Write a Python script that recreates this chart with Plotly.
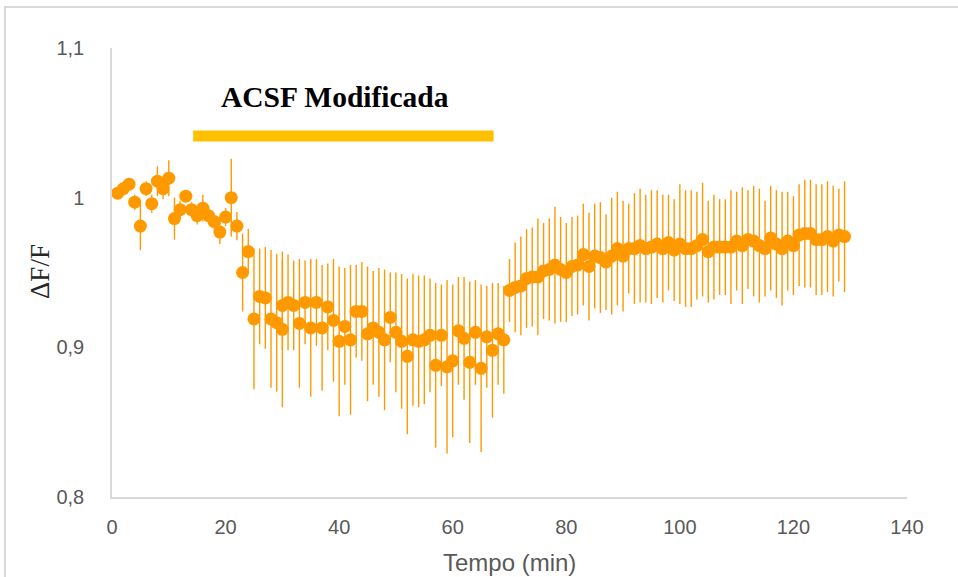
import plotly.graph_objects as go

# ---- data ----
minutes = list(range(1, 130))
delta_f = [
    1.003, 1.006, 1.009, 0.997, 0.981, 1.006, 0.996, 1.011, 1.006, 1.013,
    0.986, 0.992, 1.001, 0.992, 0.988, 0.993, 0.988, 0.984, 0.977, 0.987,
    1.000, 0.981, 0.950, 0.964, 0.919, 0.934, 0.933, 0.919, 0.9165, 0.912,
    0.930, 0.928, 0.916, 0.930, 0.913, 0.930, 0.913, 0.927, 0.918, 0.904,
    0.914, 0.905, 0.924, 0.924, 0.909, 0.913, 0.910, 0.905, 0.920, 0.910,
    0.904, 0.894, 0.905, 0.904, 0.905, 0.908, 0.888, 0.908, 0.887, 0.891,
    0.911, 0.906, 0.890, 0.910, 0.886, 0.907, 0.898, 0.909, 0.905, 0.938,
    0.940, 0.941, 0.946, 0.947, 0.947, 0.951, 0.952, 0.955, 0.952, 0.950,
    0.954, 0.955, 0.962, 0.954, 0.961, 0.960, 0.957, 0.961, 0.966, 0.961,
    0.966, 0.966, 0.968, 0.966, 0.967, 0.969, 0.966, 0.970, 0.965, 0.969,
    0.966, 0.966, 0.968, 0.972, 0.964, 0.967, 0.967, 0.967, 0.967, 0.971,
    0.968, 0.972, 0.971, 0.968, 0.966, 0.973, 0.969, 0.966, 0.971, 0.968,
    0.975, 0.976, 0.976, 0.972, 0.972, 0.974, 0.971, 0.975, 0.974,
]
error = [
    0.004, 0.004, 0.003, 0.005, 0.016, 0.005, 0.006, 0.010, 0.007, 0.012,
    0.014, 0.006, 0.004, 0.005, 0.006, 0.009, 0.006, 0.005, 0.008, 0.006,
    0.026, 0.0095, 0.026, 0.015, 0.047, 0.032, 0.034, 0.046, 0.046, 0.052,
    0.032, 0.030, 0.043, 0.028, 0.046, 0.029, 0.042, 0.029, 0.041, 0.050,
    0.039, 0.050, 0.031, 0.033, 0.045, 0.038, 0.043, 0.047, 0.030, 0.040,
    0.045, 0.052, 0.044, 0.044, 0.043, 0.038, 0.055, 0.034, 0.058, 0.051,
    0.036, 0.041, 0.054, 0.035, 0.056, 0.034, 0.045, 0.034, 0.036, 0.021,
    0.030, 0.033, 0.033, 0.033, 0.039, 0.032, 0.034, 0.039, 0.035, 0.033,
    0.033, 0.033, 0.034, 0.036, 0.035, 0.037, 0.032, 0.039, 0.038, 0.037,
    0.030, 0.037, 0.038, 0.036, 0.038, 0.036, 0.036, 0.032, 0.034, 0.040,
    0.039, 0.039, 0.036, 0.038, 0.034, 0.035, 0.032, 0.032, 0.038, 0.033,
    0.039, 0.033, 0.037, 0.038, 0.032, 0.035, 0.036, 0.038, 0.033, 0.033,
    0.034, 0.036, 0.036, 0.037, 0.037, 0.037, 0.037, 0.031, 0.037,
]
# one extra (overlapping) point seen at minute 30
extra_minutes = [30]
extra_delta_f = [0.928]
extra_error = [0.030]

# treatment period
treatment_label = "ACSF Modificada"
treatment_start = 14.3
treatment_end = 67.2

x_ticks = [0, 20, 40, 60, 80, 100, 120, 140]
y_ticks = [0.8, 0.9, 1.0, 1.1]
y_tick_text = ["0,8", "0,9", "1", "1,1"]

ORANGE = "#FF9900"
GOLD = "#FFC000"
TICK_FONT = "Liberation Sans Narrow, Arial Narrow, Liberation Sans, sans-serif"

fig = go.Figure()
fig.add_trace(go.Scatter(
    x=minutes + extra_minutes,
    y=delta_f + extra_delta_f,
    mode="markers",
    marker=dict(size=13, color=ORANGE, line=dict(width=0)),
    error_y=dict(type="data", array=error + extra_error, color=ORANGE,
                 thickness=1.4, width=0),
    showlegend=False,
))

fig.add_shape(type="rect", xref="x", yref="y",
              x0=treatment_start, x1=treatment_end, y0=1.0375, y1=1.0448,
              fillcolor=GOLD, line=dict(width=0), layer="above")

# outer frame (partly outside the visible page)
fig.add_shape(type="rect", xref="paper", yref="paper",
              x0=-0.1346, x1=1.3, y0=-0.4, y1=1.0913,
              line=dict(color="#D9D9D9", width=2), fillcolor="rgba(0,0,0,0)")

fig.add_annotation(text="<b>" + treatment_label + "</b>", xref="paper", yref="paper",
                   x=(335 - 112) / 795, y=(497 - 97) / 449, showarrow=False,
                   font=dict(family="Liberation Serif, Times New Roman, serif",
                             size=29.5, color="#000000"),
                   xanchor="center", yanchor="middle")
fig.add_annotation(text="ΔF/F", xref="paper", yref="paper",
                   x=(40 - 112) / 795, y=(497 - 272) / 449, showarrow=False,
                   textangle=-90,
                   font=dict(family="Liberation Serif, Times New Roman, serif",
                             size=27, color="#262626"),
                   xanchor="center", yanchor="middle")
fig.add_annotation(text="Tempo (min)", xref="paper", yref="paper",
                   x=(509 - 112) / 795, y=(497 - 562) / 449, showarrow=False,
                   font=dict(family=TICK_FONT, size=24, color="#595959"),
                   xanchor="center", yanchor="middle")

fig.update_layout(
    width=958, height=577,
    margin=dict(l=112, r=51, t=48, b=80),
    paper_bgcolor="white", plot_bgcolor="white",
    xaxis=dict(range=[0, 140], tickvals=x_ticks, showline=True,
               linecolor="#D9D9D9", linewidth=1.5, showgrid=False,
               zeroline=False, ticks="", ticklabelstandoff=11,
               tickfont=dict(family=TICK_FONT, size=20, color="#595959")),
    yaxis=dict(range=[0.8, 1.1], tickvals=y_ticks, ticktext=y_tick_text,
               showline=True, linecolor="#D9D9D9", linewidth=1.5,
               showgrid=False, zeroline=False, ticks="", ticklabelstandoff=22,
               tickfont=dict(family=TICK_FONT, size=20, color="#595959")),
)

fig.write_html("out.html")
